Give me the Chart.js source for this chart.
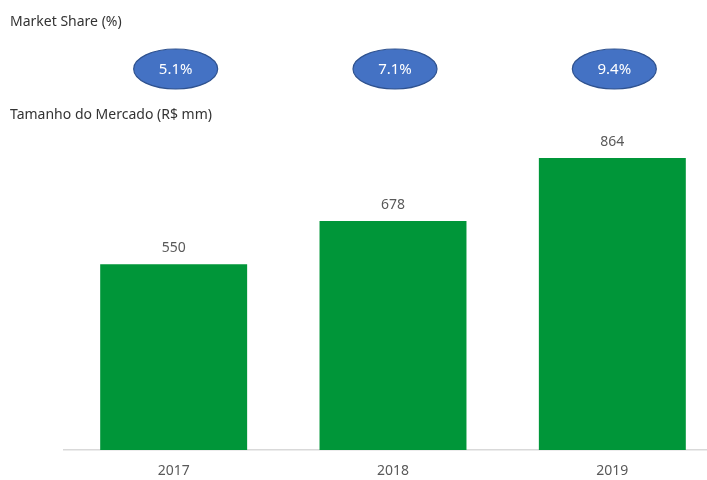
<!DOCTYPE html>
<html>
<head>
<meta charset="utf-8">
<script src="https://cdn.jsdelivr.net/npm/chart.js@4"></script>
<style>
  html, body { margin: 0; padding: 0; background: #fff; overflow: hidden; }
  #wrap { position: relative; width: 722px; height: 480px; }
</style>
</head>
<body>
<div id="wrap"><canvas id="chart" width="722" height="480"></canvas></div>
<script>
const years = ['2017', '2018', '2019'];
const marketSize = [550, 678, 864];
const marketShare = ['5.1%', '7.1%', '9.4%'];

const FONT = '"Noto Sans", "Open Sans", sans-serif';

// titles, share bubbles and value labels
const overlay = {
  id: 'overlay',
  afterDatasetsDraw(chart) {
    const ctx = chart.ctx;
    const xs = chart.scales.x;
    ctx.save();

    ctx.fillStyle = '#333333';
    ctx.font = '14px ' + FONT;
    ctx.textAlign = 'left';
    ctx.textBaseline = 'middle';
    ctx.fillText('Market Share (%)', 10, 22);
    ctx.fillText('Tamanho do Mercado (R$ mm)', 10, 115);

    marketShare.forEach((txt, i) => {
      const x = xs.getPixelForValue(i) + 2;
      ctx.beginPath();
      ctx.ellipse(x, 69, 42, 20, 0, 0, Math.PI * 2);
      ctx.fillStyle = '#4472C4';
      ctx.fill();
      ctx.lineWidth = 1.2;
      ctx.strokeStyle = '#2F528F';
      ctx.stroke();
      ctx.fillStyle = '#ffffff';
      ctx.font = '15px ' + FONT;
      ctx.textAlign = 'center';
      ctx.fillText(txt, x, 70);
    });

    const meta = chart.getDatasetMeta(0);
    ctx.fillStyle = '#595959';
    ctx.font = '14px ' + FONT;
    ctx.textAlign = 'center';
    meta.data.forEach((bar, i) => {
      ctx.fillText(String(marketSize[i]), bar.x, bar.y - 16);
    });
    ctx.restore();
  }
};

new Chart(document.getElementById('chart').getContext('2d'), {
  type: 'bar',
  data: {
    labels: years,
    datasets: [
      {
        data: marketSize,
        backgroundColor: '#009639',
        borderWidth: 0,
        categoryPercentage: 1,
        barPercentage: 0.67,
      },
    ],
  },
  options: {
    responsive: false,
    animation: false,
    layout: { padding: { left: 64, top: 129, right: 0, bottom: 0 } },
    plugins: {
      legend: { display: false },
      tooltip: { enabled: false },
    },
    scales: {
      x: {
        grid: { display: false, drawTicks: false },
        border: { display: true, color: '#d9d9d9', width: 1.5 },
        ticks: {
          color: '#595959',
          padding: 13,
          font: { family: FONT, size: 14 },
        },
        afterFit: (s) => { s.height = 30; },
      },
      y: {
        display: false,
        min: 0,
        max: 950,
      },
    },
  },
  plugins: [overlay],
});
</script>
</body>
</html>
